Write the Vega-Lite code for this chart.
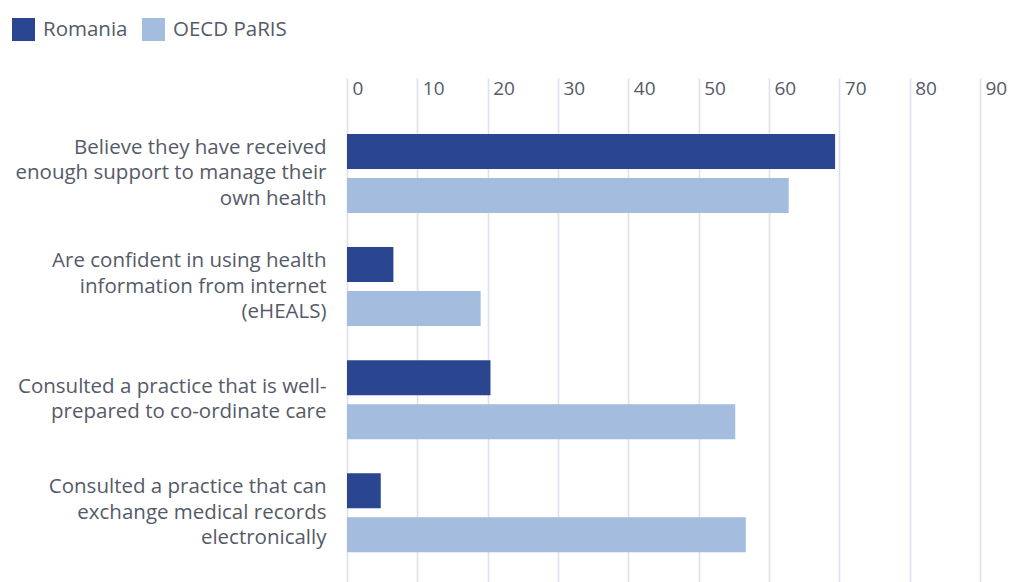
{
  "$schema": "https://vega.github.io/schema/vega-lite/v6.json",
  "autosize": {"type": "none"},
  "padding": {"left": 347, "top": 78, "right": 50, "bottom": 0},
  "width": 633,
  "height": 504,
  "background": "white",
  "config": {
    "view": {"stroke": null},
    "font": "Open Sans"
  },
  "data": {
    "values": [
      {"category": "Believe they have received|enough support to manage their|own health", "series": "Romania", "value": 69.4},
      {"category": "Believe they have received|enough support to manage their|own health", "series": "OECD PaRIS", "value": 62.8},
      {"category": "Are confident in using health|information from internet|(eHEALS)", "series": "Romania", "value": 6.6},
      {"category": "Are confident in using health|information from internet|(eHEALS)", "series": "OECD PaRIS", "value": 19.0},
      {"category": "Consulted a practice that is well-|prepared to co-ordinate care", "series": "Romania", "value": 20.4},
      {"category": "Consulted a practice that is well-|prepared to co-ordinate care", "series": "OECD PaRIS", "value": 55.2},
      {"category": "Consulted a practice that can|exchange medical records|electronically", "series": "Romania", "value": 4.8},
      {"category": "Consulted a practice that can|exchange medical records|electronically", "series": "OECD PaRIS", "value": 56.7}
    ]
  },
  "mark": {"type": "bar"},
  "encoding": {
    "y": {
      "field": "category",
      "type": "nominal",
      "sort": null,
      "scale": {"paddingInner": 0.301, "paddingOuter": 0.379, "align": 0.653},
      "axis": {
        "title": null,
        "domain": false,
        "ticks": false,
        "labelExpr": "split(datum.value, '|')",
        "labelFontSize": 20.5,
        "labelLineHeight": 25.5,
        "labelColor": "#555a68",
        "labelPadding": 21,
        "labelLimit": 400,
        "labelAlign": "right",
        "labelBaseline": "middle",
        "labelOffset": {"expr": "-(length(split(datum.value, '|')) - 1) * 12.75"}
      }
    },
    "yOffset": {
      "field": "series",
      "type": "nominal",
      "sort": ["Romania", "OECD PaRIS"],
      "scale": {"paddingInner": 0.2045, "paddingOuter": 0}
    },
    "x": {
      "field": "value",
      "type": "quantitative",
      "scale": {"domain": [0, 90], "nice": false},
      "axis": {
        "orient": "top",
        "title": null,
        "values": [0, 10, 20, 30, 40, 50, 60, 70, 80, 90],
        "domain": false,
        "ticks": false,
        "grid": true,
        "gridColor": "#dde1ea",
        "gridWidth": 1.6,
        "labelFontSize": 19,
        "labelColor": "#555a68",
        "labelAlign": "left",
        "labelBaseline": "middle",
        "labelPadding": -10,
        "labelOffset": 5,
        "labelFlush": false
      }
    },
    "color": {
      "field": "series",
      "type": "nominal",
      "sort": ["Romania", "OECD PaRIS"],
      "scale": {"domain": ["Romania", "OECD PaRIS"], "range": ["#2b4690", "#a4bcdd"]},
      "legend": {
        "title": null,
        "orient": "none",
        "legendX": -335,
        "legendY": -60,
        "direction": "horizontal",
        "symbolType": "square",
        "symbolSize": 529,
        "symbolStrokeWidth": 0,
        "labelFontSize": 20.5,
        "labelColor": "#555a68",
        "labelOffset": 8,
        "columnPadding": 14
      }
    }
  }
}
